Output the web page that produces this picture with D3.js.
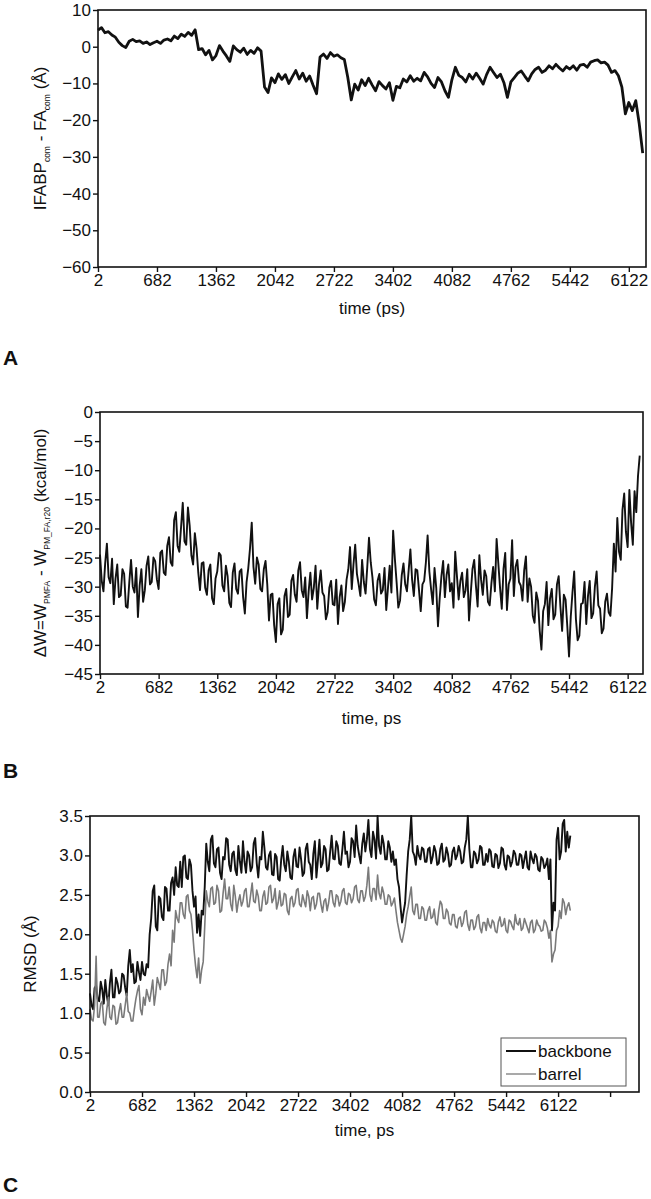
<!DOCTYPE html>
<html>
<head>
<meta charset="utf-8">
<style>
  body { margin: 0; background: #fff; }
  text { font-family: "Liberation Sans", Arial, sans-serif; fill: #111; }
</style>
</head>
<body>
<div id="graphic"></div>
<script src="https://d3js.org/d3.v7.min.js"></script>
<script>
// first sample time (ps); each series has its own sampling step
const t0 = 2;

// x tick labels shared by all panels
const timeTicks = [2, 682, 1362, 2042, 2722, 3402, 4082, 4762, 5442, 6122];

// panel A: IFABP_com - FA_com distance (Å), every 40 ps
const dtA = 40;
const distA = [
  4.5, 5.2, 3.8, 4.1, 3.2, 2.6, 1.2, 0.3, -0.2, 1.5,
  2.0, 1.4, 1.6, 0.9, 1.3, 0.6, 1.1, 1.5, 0.9, 1.8,
  2.1, 1.6, 2.9, 2.2, 3.4, 2.8, 3.9, 3.1, 4.6, -0.8,
  -0.5, -2.2, -1.0, -3.6, -2.4, 0.3, -1.2, -2.5, -4.0, 0.2,
  -0.8, -1.5, -0.4, -2.1, -1.0, -1.8, -0.3, -1.2, -11.0, -12.5,
  -8.5, -9.8, -7.4, -8.9, -7.6, -10.0, -8.2, -6.5, -8.8, -7.2,
  -9.4, -8.0, -10.5, -12.8, -2.8, -2.0, -3.2, -1.6, -2.6, -2.2,
  -3.0, -3.5, -8.4, -14.5, -10.2, -11.8, -9.0, -10.6, -8.6, -10.4,
  -12.0, -9.5, -10.6, -11.5, -9.8, -14.6, -10.8, -11.2, -8.8, -9.6,
  -7.9, -9.4, -8.6, -9.3, -7.0, -8.2, -10.0, -11.1, -8.4, -9.6,
  -12.0, -13.8, -9.0, -5.6, -7.8, -8.4, -9.6, -7.5, -8.8, -7.2,
  -8.6, -10.2, -7.6, -5.6, -7.0, -8.4, -7.5, -9.8, -13.8, -9.6,
  -8.4, -7.2, -6.6, -8.0, -9.3, -7.4, -6.2, -5.6, -7.0, -6.4,
  -5.2, -6.0, -4.8, -5.8, -6.6, -5.4, -6.1, -5.2, -6.4, -5.0,
  -4.8, -5.6, -4.2, -3.8, -3.6, -4.4, -4.2, -5.0, -7.0, -6.5,
  -7.9, -11.0, -18.3, -15.2, -17.4, -14.7, -21.0, -29.0
];
const yTicksA = [10, 0, -10, -20, -30, -40, -50, -60];

// panel B: ΔW (kcal/mol), every 20 ps
const dtB = 20;
const deltaW = [
  -24.5, -29.0, -30.8, -26.0, -22.6, -28.4, -29.4, -25.2, -33.0, -28.6, -26.2, -31.8, -31.5, -27.0, -27.8, -33.4, -33.6, -29.2, -25.4, -30.0,
  -31.0, -26.8, -35.2, -29.8, -27.0, -32.6, -30.6, -26.4, -24.8, -29.6, -29.2, -25.0, -25.6, -28.8, -30.4, -24.2, -23.8, -27.6, -28.0, -23.0,
  -21.5, -25.8, -26.4, -18.6, -17.2, -23.0, -24.0, -19.8, -15.6, -22.2, -22.8, -16.4, -19.5, -24.6, -26.2, -20.8, -23.4, -27.6, -30.6, -26.0,
  -25.8, -30.2, -31.4, -27.2, -26.2, -32.0, -33.0, -28.6, -27.4, -24.2, -24.6, -29.8, -30.8, -26.4, -28.2, -32.8, -33.5, -27.6, -26.0, -30.4,
  -31.2, -27.4, -27.0, -31.8, -34.6, -29.2, -26.8, -23.4, -19.0, -26.6, -29.5, -25.0, -26.2, -30.4, -30.8, -27.0, -25.6, -29.6, -35.8, -31.4,
  -31.2, -36.6, -39.5, -33.0, -32.0, -38.2, -37.4, -31.6, -30.4, -35.2, -34.8, -29.0, -28.0, -31.4, -32.6, -27.2, -25.8, -30.6, -31.8, -28.4,
  -35.4, -30.8, -27.6, -32.2, -30.2, -26.4, -33.8, -29.6, -27.2, -31.0, -31.6, -35.6, -34.4, -30.2, -29.0, -33.0, -33.2, -28.8, -36.4, -31.8,
  -29.8, -34.2, -32.6, -28.8, -27.0, -23.2, -30.4, -26.2, -22.8, -27.8, -29.6, -31.6, -25.4, -29.2, -31.2, -26.6, -21.6, -25.8, -28.4, -32.2,
  -33.2, -29.0, -27.8, -31.2, -30.6, -26.8, -34.0, -30.2, -26.4, -31.0, -20.4, -25.2, -29.2, -33.6, -32.4, -28.0, -26.0, -29.6, -30.8, -27.2,
  -23.6, -28.8, -31.6, -27.0, -27.2, -30.6, -34.2, -29.6, -29.0, -25.8, -21.2, -27.4, -30.4, -33.0, -26.8, -30.2, -36.8, -32.0, -28.2, -25.6,
  -31.8, -28.0, -26.2, -30.8, -29.4, -33.6, -24.0, -28.2, -32.2, -29.0, -27.6, -31.8, -30.6, -27.0, -35.8, -31.2, -27.0, -25.4, -29.8, -33.4,
  -24.6, -28.8, -31.4, -27.2, -28.2, -32.6, -33.2, -29.4, -26.6, -30.8, -21.8, -26.0, -30.2, -33.8, -27.0, -24.2, -34.0, -29.6, -28.6, -22.0,
  -31.6, -26.6, -25.4, -29.2, -29.8, -32.4, -27.2, -24.8, -32.6, -28.6, -30.0, -35.0, -36.2, -31.0, -32.4, -37.6, -40.8, -34.2, -33.0, -29.2,
  -36.6, -32.0, -30.4, -35.6, -34.8, -29.6, -28.2, -33.4, -37.6, -31.4, -32.2, -36.8, -42.0, -35.2, -31.0, -27.4, -35.6, -39.2, -38.4, -33.0,
  -32.8, -29.2, -36.4, -31.6, -29.0, -35.4, -34.6, -30.0, -27.4, -33.2, -33.8, -38.0, -37.2, -32.6, -31.2, -34.4, -35.0, -30.2, -22.6, -27.4,
  -18.2, -24.0, -25.4, -16.8, -14.0, -20.6, -23.2, -13.4, -19.0, -22.8, -13.6, -17.2, -11.0, -7.5
];
const yTicksB = [0, -5, -10, -15, -20, -25, -30, -35, -40, -45];

// panel C: RMSD (Å), every 20 ps
const dtC = 20;
const rmsdBackbone = [
  1.25, 1.10, 1.05, 1.32, 1.35, 1.18, 1.15, 1.40, 1.30, 1.12, 1.42, 1.22, 1.10, 1.38, 1.55, 1.20, 1.20, 1.45, 1.38, 1.25,
  1.28, 1.50, 1.48, 1.32, 1.22, 1.60, 1.80, 1.52, 1.62, 1.38, 1.40, 1.65, 1.52, 1.42, 1.65, 1.50, 1.48, 1.62, 1.58, 2.00,
  2.20, 2.55, 2.62, 2.10, 2.05, 2.48, 2.45, 2.22, 2.18, 2.60, 2.58, 2.30, 2.30, 2.65, 2.72, 2.50, 2.85, 2.62, 2.60, 2.92,
  2.60, 2.98, 3.00, 2.72, 2.70, 2.95, 2.88, 2.55, 2.35, 2.48, 2.02, 2.25, 1.98, 2.30, 2.25, 2.60, 3.15, 2.92, 2.80, 3.20,
  3.25, 2.90, 2.85, 3.08, 3.10, 2.78, 2.70, 2.98, 2.95, 3.22, 3.20, 2.88, 2.80, 3.02, 3.05, 2.82, 2.75, 3.12, 2.92, 2.78,
  3.18, 2.92, 2.78, 3.05, 3.00, 2.80, 2.85, 3.15, 3.22, 2.90, 2.72, 2.98, 2.95, 3.30, 3.10, 2.85, 2.82, 3.00, 3.05, 2.76,
  2.75, 3.02, 2.98, 2.70, 2.68, 2.95, 3.12, 2.88, 2.80, 3.05, 2.92, 2.72, 2.70, 2.98, 3.08, 2.86, 2.85, 3.10, 2.95, 2.74,
  2.78, 3.08, 3.15, 2.92, 2.88, 2.70, 3.02, 3.18, 2.72, 2.94, 3.20, 2.85, 2.90, 3.12, 3.08, 2.80, 2.82, 3.05, 3.25, 2.96,
  2.95, 3.18, 3.12, 2.90, 2.88, 3.08, 3.30, 3.02, 3.05, 2.85, 2.92, 3.22, 3.18, 2.98, 3.38, 3.12, 3.00, 2.90, 3.15, 3.28,
  3.05, 3.20, 3.45, 3.08, 2.98, 3.30, 3.20, 2.96, 3.50, 3.12, 3.02, 3.25, 3.15, 2.95, 2.95, 3.18, 3.10, 2.92, 3.05, 2.88,
  2.95, 2.70, 2.60, 2.35, 2.15, 2.28, 2.40, 2.75, 3.05, 3.20, 3.50, 3.05, 3.00, 2.88, 3.12, 3.00, 2.95, 3.10, 3.08, 2.92,
  2.92, 3.08, 3.10, 2.90, 2.98, 3.12, 3.05, 2.88, 2.90, 3.08, 3.15, 2.92, 2.95, 3.10, 3.02, 2.86, 2.88, 3.05, 3.10, 2.95,
  3.00, 3.12, 3.05, 2.90, 2.92, 3.10, 3.20, 3.50, 3.08, 2.85, 2.85, 3.05, 3.02, 2.90, 2.95, 3.12, 3.10, 2.88, 2.88, 3.02,
  2.92, 3.08, 3.05, 2.86, 2.85, 3.02, 3.00, 2.84, 2.90, 3.10, 3.08, 2.88, 2.82, 3.00, 2.98, 2.86, 2.92, 3.06, 3.02, 2.88,
  2.88, 3.02, 3.00, 2.84, 2.95, 3.05, 2.85, 2.82, 3.05, 2.96, 2.90, 3.02, 2.98, 2.82, 2.80, 2.98, 2.95, 2.84, 2.88, 2.96,
  2.70, 2.95, 2.05, 2.40, 2.30, 3.20, 3.35, 2.95, 3.05, 3.40, 3.45, 3.05, 3.30, 3.10, 3.25
];
const rmsdBarrel = [
  1.05, 0.92, 0.90, 1.10, 1.72, 0.95, 0.95, 1.12, 1.15, 0.88, 0.85, 1.05, 1.20, 0.95, 0.92, 1.10, 1.08, 0.86, 0.88, 1.02,
  1.12, 0.95, 0.95, 1.10, 1.25, 1.02, 1.00, 0.90, 0.90, 1.05, 1.18, 1.28, 1.35, 1.05, 0.98, 1.20, 1.10, 1.30, 1.22, 1.15,
  1.28, 1.42, 1.10, 1.25, 1.45, 1.38, 1.30, 1.55, 1.55, 1.35, 1.40, 1.62, 1.75, 1.60, 2.05, 1.90, 2.30, 2.20, 2.15, 2.40,
  2.40, 2.25, 2.20, 2.48, 2.50, 2.30, 2.25, 2.05, 1.80, 1.60, 1.45, 1.70, 1.38, 1.55, 1.65, 2.10, 2.55, 2.42, 2.35, 2.58,
  2.60, 2.38, 2.40, 2.62, 2.55, 2.28, 2.30, 2.52, 2.70, 2.45, 2.45, 2.60, 2.38, 2.30, 2.62, 2.48, 2.28, 2.42, 2.50, 2.36,
  2.42, 2.55, 2.58, 2.35, 2.35, 2.50, 2.65, 2.42, 2.40, 2.56, 2.48, 2.30, 2.30, 2.48, 2.55, 2.38, 2.40, 2.60, 2.62, 2.40,
  2.45, 2.58, 2.32, 2.40, 2.55, 2.36, 2.38, 2.52, 2.50, 2.30, 2.25, 2.45, 2.48, 2.35, 2.40, 2.56, 2.58, 2.38, 2.35, 2.50,
  2.42, 2.35, 2.55, 2.48, 2.30, 2.46, 2.48, 2.32, 2.38, 2.52, 2.52, 2.38, 2.28, 2.42, 2.45, 2.30, 2.40, 2.55, 2.55, 2.40,
  2.35, 2.50, 2.48, 2.36, 2.42, 2.55, 2.58, 2.40, 2.38, 2.52, 2.50, 2.40, 2.45, 2.60, 2.62, 2.44, 2.40, 2.55, 2.55, 2.42,
  2.48, 2.62, 2.85, 2.50, 2.42, 2.58, 2.58, 2.44, 2.75, 2.52, 2.45, 2.60, 2.52, 2.38, 2.38, 2.50, 2.48, 2.36, 2.40, 2.46,
  2.30, 2.15, 2.05, 1.95, 1.90, 2.00, 2.10, 2.25, 2.35, 2.48, 2.60, 2.30, 2.25, 2.38, 2.38, 2.20, 2.20, 2.35, 2.32, 2.18,
  2.18, 2.30, 2.35, 2.20, 2.22, 2.32, 2.15, 2.12, 2.30, 2.42, 2.38, 2.20, 2.20, 2.32, 2.28, 2.14, 2.12, 2.25, 2.25, 2.10,
  2.08, 2.20, 2.22, 2.10, 2.15, 2.28, 2.30, 2.12, 2.05, 2.18, 2.18, 2.06, 2.10, 2.22, 2.25, 2.08, 2.02, 2.15, 2.15, 2.05,
  2.20, 2.12, 2.08, 2.18, 2.15, 2.04, 2.02, 2.16, 2.22, 2.10, 2.12, 2.20, 2.05, 2.02, 2.18, 2.16, 2.10, 2.06, 2.25, 2.14,
  2.12, 2.20, 2.05, 2.08, 2.20, 2.14, 2.08, 2.02, 2.15, 2.18, 2.02, 2.06, 2.18, 2.12, 2.10, 2.04, 2.05, 2.18, 2.15, 2.08,
  1.95, 2.05, 1.65, 1.75, 1.80, 2.05, 2.10, 2.30, 2.20, 2.45, 2.40, 2.25, 2.35, 2.40, 2.30
];
const yTicksC = [0, 0.5, 1, 1.5, 2, 2.5, 3, 3.5];
const cExtraTicks = [6802];
const legendNames = ["backbone", "barrel"];
const seriesColors = ["#111", "#7a7a7a"];

const svg = d3.select("#graphic").append("svg")
    .attr("width", 651)
    .attr("height", 1199);

function toPoints(vals, dt) {
    return vals.map(function (v, i) { return { t: t0 + i * dt, v: v }; });
}

function drawPanel(p) {
    var x = d3.scaleLinear().domain(p.xDomain).range([p.left, p.right]);
    var y = d3.scaleLinear().domain(p.yDomain).range([p.bottom, p.top]);

    var g = svg.append("g");

    // series
    var line = d3.line()
        .x(function (d) { return x(d.t); })
        .y(function (d) { return y(d.v); });
    p.series.forEach(function (s) {
        g.append("path")
            .datum(toPoints(s.values, s.dt))
            .attr("fill", "none")
            .attr("stroke", s.color)
            .attr("stroke-width", s.width)
            .attr("stroke-linejoin", "round")
            .attr("d", line);
    });

    // axes
    var xAxis = d3.axisBottom(x)
        .tickValues(p.xTicks)
        .tickSize(5)
        .tickSizeOuter(0)
        .tickFormat(function (d) { return timeTicks.indexOf(d) >= 0 ? d : ""; });
    var gx = g.append("g")
        .attr("transform", "translate(0," + p.bottom + ")")
        .call(xAxis);
    gx.selectAll("text").attr("y", 7).style("font-size", "17px");

    var yAxis = d3.axisLeft(y)
        .tickValues(p.yTicks)
        .tickSize(5)
        .tickSizeOuter(0)
        .tickFormat(p.yFormat);
    var gy = g.append("g")
        .attr("transform", "translate(" + p.left + ",0)")
        .call(yAxis);
    gy.selectAll("text").attr("x", -7).style("font-size", "17px");

    [gx, gy].forEach(function (a) {
        a.select(".domain").remove();
        a.selectAll("line").attr("stroke", "#111").attr("stroke-width", 1.4);
        a.selectAll("text").style("font-family", '"Liberation Sans", Arial, sans-serif').attr("fill", "#111");
    });

    // frame
    g.append("rect")
        .attr("x", p.left).attr("y", p.top)
        .attr("width", p.right - p.left).attr("height", p.bottom - p.top)
        .attr("fill", "none").attr("stroke", "#111").attr("stroke-width", 1.6);

    // x title
    g.append("text")
        .attr("x", (p.left + p.right) / 2)
        .attr("y", p.xTitleY)
        .attr("text-anchor", "middle")
        .style("font-size", "17px")
        .text(p.xTitle);

    // y title (rotated, with subscripts)
    var yt = g.append("text")
        .attr("transform", "translate(" + p.yTitleX + "," + ((p.top + p.bottom) / 2) + ") rotate(-90)")
        .attr("text-anchor", "middle")
        .style("font-size", "17px");
    p.yTitle.forEach(function (part) {
        var ts = yt.append("tspan").text(part.s);
        if (part.sub) ts.attr("dy", 4).style("font-size", "8.5px");
        else if (part.after) ts.attr("dy", -4);
    });

    // panel letter
    svg.append("text")
        .attr("x", 3).attr("y", p.letterY)
        .style("font-size", "21px").style("font-weight", "bold")
        .text(p.letter);

    return { x: x, y: y };
}

drawPanel({
    left: 98, right: 646, top: 10, bottom: 267,
    xDomain: [2, 6320], yDomain: [-60, 10],
    xTicks: timeTicks, yTicks: yTicksA, yFormat: d3.format("d"),
    series: [{ values: distA, dt: dtA, color: "#111", width: 2.8 }],
    xTitle: "time (ps)", xTitleY: 314,
    yTitleX: 46,
    yTitle: [{ s: "IFABP" }, { s: "com", sub: true }, { s: " - FA", after: true },
             { s: "com", sub: true }, { s: " (Å)", after: true }],
    letter: "A", letterY: 365
});

drawPanel({
    left: 100, right: 643, top: 412, bottom: 674,
    xDomain: [2, 6300], yDomain: [-45, 0],
    xTicks: timeTicks, yTicks: yTicksB, yFormat: d3.format("d"),
    series: [{ values: deltaW, dt: dtB, color: "#111", width: 1.9 }],
    xTitle: "time, ps", xTitleY: 724,
    yTitleX: 46,
    yTitle: [{ s: "\u0394W=W" }, { s: "PMFA", sub: true }, { s: " - W", after: true },
             { s: "PM_FA,r20", sub: true }, { s: " (kcal/mol)", after: true }],
    letter: "B", letterY: 778
});

drawPanel({
    left: 90, right: 639, top: 816, bottom: 1092,
    xDomain: [2, 7180], yDomain: [0, 3.5],
    xTicks: timeTicks.concat(cExtraTicks), yTicks: yTicksC, yFormat: d3.format(".1f"),
    series: [
        { values: rmsdBackbone, dt: dtC, color: seriesColors[0], width: 1.9 },
        { values: rmsdBarrel, dt: dtC, color: seriesColors[1], width: 1.6 }
    ],
    xTitle: "time, ps", xTitleY: 1136,
    yTitleX: 36,
    yTitle: [{ s: "RMSD (Å)" }],
    letter: "C", letterY: 1192
});

// legend for panel C
var lg = svg.append("g").attr("transform", "translate(501,1038)");
lg.append("rect")
    .attr("width", 125).attr("height", 48)
    .attr("fill", "#fff").attr("stroke", "#555").attr("stroke-width", 1);
legendNames.forEach(function (name, i) {
    var yy = 13 + i * 23;
    lg.append("line")
        .attr("x1", 5).attr("x2", 35).attr("y1", yy).attr("y2", yy)
        .attr("stroke", seriesColors[i]).attr("stroke-width", i === 0 ? 2 : 1.3);
    lg.append("text")
        .attr("x", 37).attr("y", yy + 6)
        .style("font-size", "17px")
        .text(name);
});
</script>
</body>
</html>
